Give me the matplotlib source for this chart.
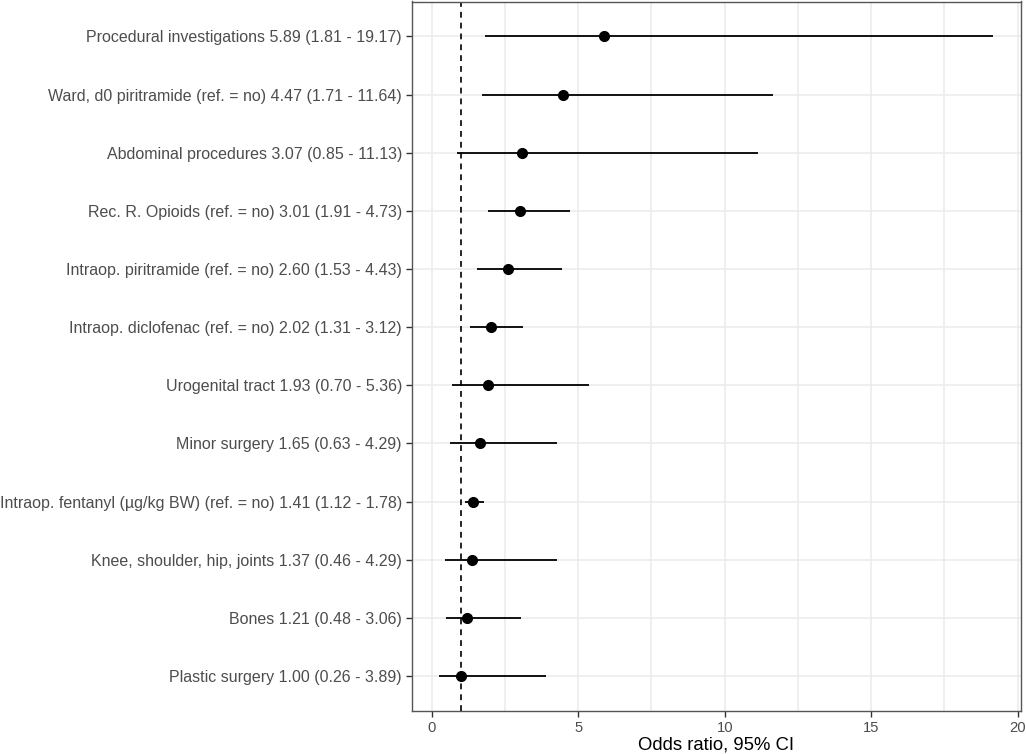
import matplotlib
matplotlib.use("Agg")
import matplotlib.pyplot as plt
import numpy as np

names = [
    "Procedural investigations",
    "Ward, d0 piritramide (ref. = no)",
    "Abdominal procedures",
    "Rec. R. Opioids (ref. = no)",
    "Intraop. piritramide (ref. = no)",
    "Intraop. diclofenac (ref. = no)",
    "Urogenital tract",
    "Minor surgery",
    "Intraop. fentanyl (µg/kg BW) (ref. = no)",
    "Knee, shoulder, hip, joints",
    "Bones",
    "Plastic surgery",
]
odds = [5.89, 4.47, 3.07, 3.01, 2.60, 2.02, 1.93, 1.65, 1.41, 1.37, 1.21, 1.00]
lower = [1.81, 1.71, 0.85, 1.91, 1.53, 1.31, 0.70, 0.63, 1.12, 0.46, 0.48, 0.26]
upper = [19.17, 11.64, 11.13, 4.73, 4.43, 3.12, 5.36, 4.29, 1.78, 4.29, 3.06, 3.89]
x_ticks = [0, 5, 10, 15, 20]
ref_line = 1
x_title = "Odds ratio, 95% CI"

labels = [f"{n} {o:.2f} ({l:.2f} - {u:.2f})" for n, o, l, u in zip(names, odds, lower, upper)]

plt.rcParams['font.family'] = ['Liberation Sans', 'DejaVu Sans']

fig = plt.figure(figsize=(10.26, 7.54), dpi=100)
ax = fig.add_axes([411.7/1026, 1 - 711/754, (1021 - 411.7)/1026, (711 - 1.5)/754])

n = len(names)
y = np.arange(n)[::-1]

ax.hlines(y, lower, upper, color='black', lw=1.3, zorder=3)
ax.plot(odds, y, 'o', color='black', ms=7, zorder=4)
ax.axvline(ref_line, color='black', lw=1.2, linestyle=(0, (3.5, 3.0)), zorder=2)

lo_all = min(lower); hi_all = max(upper)
span = hi_all - lo_all
ax.set_xlim(lo_all - 0.05 * span, hi_all + 0.05 * span)
ax.set_ylim(-0.6, n - 1 + 0.6)

ax.set_xticks(x_ticks)
ax.set_xticks([t + 2.5 for t in x_ticks[:-1]], minor=True)
ax.set_yticks(y)
ax.set_yticklabels(labels)

ax.grid(True, which='major', color='#EBEBEB', lw=1.1, zorder=0)
ax.grid(True, which='minor', axis='x', color='#EBEBEB', lw=1.1, zorder=0)
ax.set_axisbelow(True)

ax.tick_params(axis='both', which='major', length=4, width=1, color='#333333',
               labelcolor='#4D4D4D', pad=3)
ax.tick_params(axis='y', labelsize=11.5)
ax.tick_params(axis='x', labelsize=10.6)
ax.tick_params(which='minor', length=0)

for s in ax.spines.values():
    s.set_color('#555555')
    s.set_linewidth(1.0)

ax.set_xlabel(x_title, fontsize=13.3, color='black', labelpad=1)

fig.savefig("out.png", dpi=100)
